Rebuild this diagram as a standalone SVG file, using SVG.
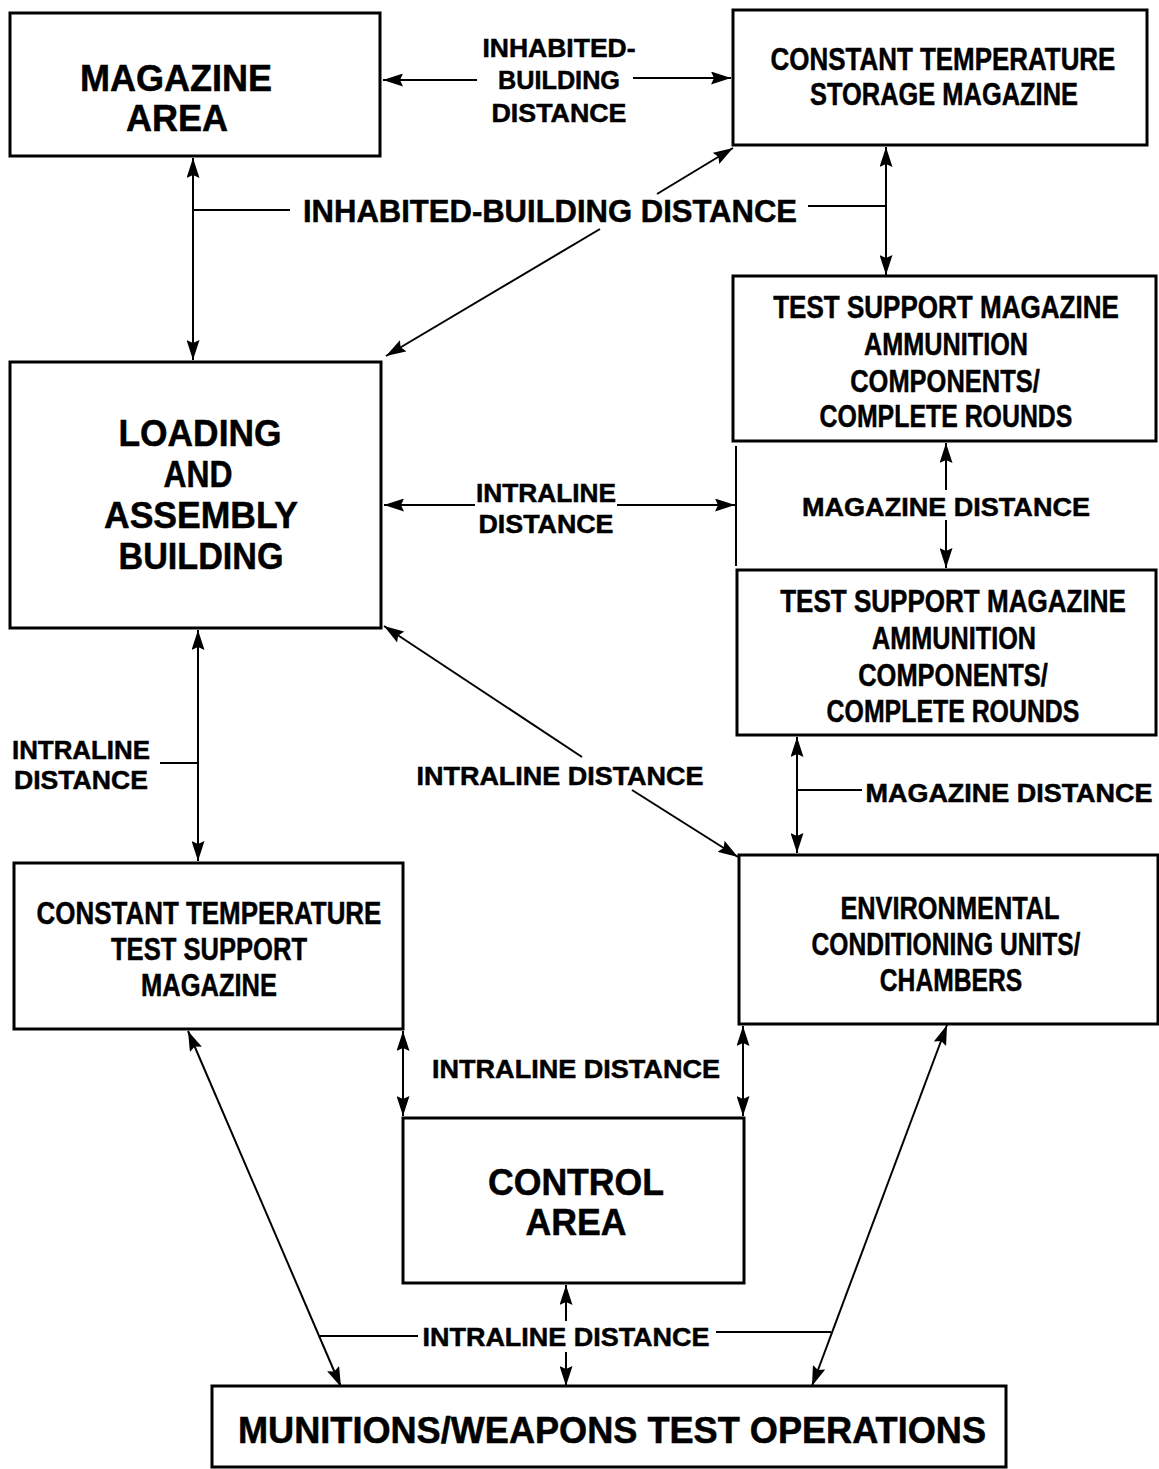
<svg xmlns="http://www.w3.org/2000/svg" width="1159" height="1469" viewBox="0 0 1159 1469">
<style>
.box{fill:#fff;stroke:#000;stroke-width:3}
.t{font-family:"Liberation Sans",Arial,sans-serif;font-weight:bold;fill:#000;stroke:#000;stroke-width:0.5;text-anchor:middle}
.big{font-size:36px}
.mid{font-size:32px}
.cd{font-size:32px}
.sm{font-size:26px}
.ln{stroke:#000;stroke-width:2;fill:none}
.ar2{marker-start:url(#ah);marker-end:url(#ah)}
</style>
<defs>
<marker id="ah" viewBox="0 0 20 13" refX="20" refY="6.5" markerWidth="20" markerHeight="13" markerUnits="userSpaceOnUse" orient="auto-start-reverse">
<path d="M0,0 L20,6.5 L0,13 L3,6.5 z" fill="#000"/>
</marker>
</defs>
<rect width="1159" height="1469" fill="#fff"/>

<g id="connectors">
<line class="ln" x1="477" y1="80" x2="383" y2="80" marker-end="url(#ah)"/>
<line class="ln" x1="633" y1="78" x2="731" y2="78" marker-end="url(#ah)"/>
<line class="ln ar2" x1="193" y1="158" x2="193" y2="360"/>
<line class="ln" x1="193" y1="210" x2="290" y2="210"/>
<line class="ln ar2" x1="886" y1="147" x2="886" y2="275"/>
<line class="ln" x1="808" y1="206" x2="886" y2="206"/>
<line class="ln" x1="600" y1="229" x2="386" y2="356" marker-end="url(#ah)"/>
<line class="ln" x1="657" y1="194" x2="733" y2="148" marker-end="url(#ah)"/>
<line class="ln" x1="475" y1="505" x2="384" y2="505" marker-end="url(#ah)"/>
<line class="ln" x1="617" y1="505" x2="735" y2="505" marker-end="url(#ah)"/>
<line class="ln" x1="736" y1="446" x2="736" y2="566"/>
<line class="ln" x1="946" y1="490" x2="946" y2="443" marker-end="url(#ah)"/>
<line class="ln" x1="946" y1="520" x2="946" y2="568" marker-end="url(#ah)"/>
<line class="ln ar2" x1="797" y1="737" x2="797" y2="853"/>
<line class="ln" x1="797" y1="790" x2="862" y2="790"/>
<line class="ln ar2" x1="198" y1="630" x2="198" y2="861"/>
<line class="ln" x1="160" y1="763" x2="198" y2="763"/>
<line class="ln" x1="582" y1="757" x2="384" y2="626" marker-end="url(#ah)"/>
<line class="ln" x1="632" y1="790" x2="738" y2="857" marker-end="url(#ah)"/>
<line class="ln ar2" x1="403" y1="1031" x2="403" y2="1116"/>
<line class="ln ar2" x1="743" y1="1026" x2="743" y2="1116"/>
<line class="ln ar2" x1="188" y1="1031" x2="341" y2="1387"/>
<line class="ln ar2" x1="947" y1="1025" x2="812" y2="1386"/>
<line class="ln" x1="320" y1="1336" x2="418" y2="1336"/>
<line class="ln" x1="716" y1="1332" x2="831" y2="1332"/>
<line class="ln" x1="566" y1="1321" x2="566" y2="1285" marker-end="url(#ah)"/>
<line class="ln" x1="566" y1="1352" x2="566" y2="1386" marker-end="url(#ah)"/>
</g>

<g id="labels">
<text class="t sm" x="559" y="57" textLength="153" lengthAdjust="spacingAndGlyphs">INHABITED-</text>
<text class="t sm" x="559" y="89" textLength="122" lengthAdjust="spacingAndGlyphs">BUILDING</text>
<text class="t sm" x="559" y="122" textLength="135" lengthAdjust="spacingAndGlyphs">DISTANCE</text>
<text class="t mid" x="550" y="222" textLength="494" lengthAdjust="spacingAndGlyphs">INHABITED-BUILDING DISTANCE</text>
<text class="t sm" x="546" y="502" textLength="140" lengthAdjust="spacingAndGlyphs">INTRALINE</text>
<text class="t sm" x="546" y="533" textLength="135" lengthAdjust="spacingAndGlyphs">DISTANCE</text>
<text class="t sm" x="946" y="516" textLength="288" lengthAdjust="spacingAndGlyphs">MAGAZINE DISTANCE</text>
<text class="t sm" x="1009" y="802" textLength="287" lengthAdjust="spacingAndGlyphs">MAGAZINE DISTANCE</text>
<text class="t sm" x="81" y="759" textLength="138" lengthAdjust="spacingAndGlyphs">INTRALINE</text>
<text class="t sm" x="81" y="789" textLength="134" lengthAdjust="spacingAndGlyphs">DISTANCE</text>
<text class="t sm" x="560" y="785" textLength="287" lengthAdjust="spacingAndGlyphs">INTRALINE DISTANCE</text>
<text class="t sm" x="576" y="1078" textLength="288" lengthAdjust="spacingAndGlyphs">INTRALINE DISTANCE</text>
<text class="t sm" x="566" y="1346" textLength="287" lengthAdjust="spacingAndGlyphs">INTRALINE DISTANCE</text>
</g>

<g id="magazine-area">
<rect class="box" x="10" y="13" width="370" height="143"/>
<text class="t big" x="176" y="91" textLength="192" lengthAdjust="spacingAndGlyphs">MAGAZINE</text>
<text class="t big" x="177" y="131" textLength="102" lengthAdjust="spacingAndGlyphs">AREA</text>
</g>

<g id="storage-magazine">
<rect class="box" x="733" y="10" width="414" height="135"/>
<text class="t cd" transform="translate(943,70) scale(0.8,1)" textLength="431" lengthAdjust="spacingAndGlyphs">CONSTANT TEMPERATURE</text>
<text class="t cd" transform="translate(944,105) scale(0.8,1)" textLength="335" lengthAdjust="spacingAndGlyphs">STORAGE MAGAZINE</text>
</g>

<g id="test-support-1">
<rect class="box" x="733" y="276" width="423" height="165"/>
<text class="t cd" transform="translate(946,318) scale(0.8,1)" textLength="432" lengthAdjust="spacingAndGlyphs">TEST SUPPORT MAGAZINE</text>
<text class="t cd" transform="translate(946,355) scale(0.8,1)" textLength="205" lengthAdjust="spacingAndGlyphs">AMMUNITION</text>
<text class="t cd" transform="translate(945,392) scale(0.8,1)" textLength="237" lengthAdjust="spacingAndGlyphs">COMPONENTS/</text>
<text class="t cd" transform="translate(946,427) scale(0.8,1)" textLength="316" lengthAdjust="spacingAndGlyphs">COMPLETE ROUNDS</text>
</g>

<g id="test-support-2">
<rect class="box" x="737" y="570" width="419" height="165"/>
<text class="t cd" transform="translate(953,612) scale(0.8,1)" textLength="432" lengthAdjust="spacingAndGlyphs">TEST SUPPORT MAGAZINE</text>
<text class="t cd" transform="translate(954,649) scale(0.8,1)" textLength="205" lengthAdjust="spacingAndGlyphs">AMMUNITION</text>
<text class="t cd" transform="translate(953,686) scale(0.8,1)" textLength="237" lengthAdjust="spacingAndGlyphs">COMPONENTS/</text>
<text class="t cd" transform="translate(953,722) scale(0.8,1)" textLength="316" lengthAdjust="spacingAndGlyphs">COMPLETE ROUNDS</text>
</g>

<g id="loading-assembly">
<rect class="box" x="10" y="362" width="371" height="266"/>
<text class="t big" x="200" y="446" textLength="163" lengthAdjust="spacingAndGlyphs">LOADING</text>
<text class="t big" x="198" y="487" textLength="69" lengthAdjust="spacingAndGlyphs">AND</text>
<text class="t big" x="201" y="528" textLength="194" lengthAdjust="spacingAndGlyphs">ASSEMBLY</text>
<text class="t big" x="201" y="569" textLength="165" lengthAdjust="spacingAndGlyphs">BUILDING</text>
</g>

<g id="ct-test-support">
<rect class="box" x="14" y="863" width="389" height="166"/>
<text class="t cd" transform="translate(209,924) scale(0.8,1)" textLength="431" lengthAdjust="spacingAndGlyphs">CONSTANT TEMPERATURE</text>
<text class="t cd" transform="translate(209,960) scale(0.8,1)" textLength="245" lengthAdjust="spacingAndGlyphs">TEST SUPPORT</text>
<text class="t cd" transform="translate(209,996) scale(0.8,1)" textLength="170" lengthAdjust="spacingAndGlyphs">MAGAZINE</text>
</g>

<g id="environmental">
<rect class="box" x="739" y="855" width="419" height="169"/>
<text class="t cd" transform="translate(950,919) scale(0.8,1)" textLength="274" lengthAdjust="spacingAndGlyphs">ENVIRONMENTAL</text>
<text class="t cd" transform="translate(946,955) scale(0.8,1)" textLength="336" lengthAdjust="spacingAndGlyphs">CONDITIONING UNITS/</text>
<text class="t cd" transform="translate(951,991) scale(0.8,1)" textLength="178" lengthAdjust="spacingAndGlyphs">CHAMBERS</text>
</g>

<g id="control-area">
<rect class="box" x="403" y="1118" width="341" height="165"/>
<text class="t big" x="576" y="1195" textLength="176" lengthAdjust="spacingAndGlyphs">CONTROL</text>
<text class="t big" x="576" y="1235" textLength="101" lengthAdjust="spacingAndGlyphs">AREA</text>
</g>

<g id="munitions">
<rect class="box" x="212" y="1386" width="794" height="81"/>
<text class="t big" x="612" y="1443" textLength="748" lengthAdjust="spacingAndGlyphs">MUNITIONS/WEAPONS TEST OPERATIONS</text>
</g>
</svg>
